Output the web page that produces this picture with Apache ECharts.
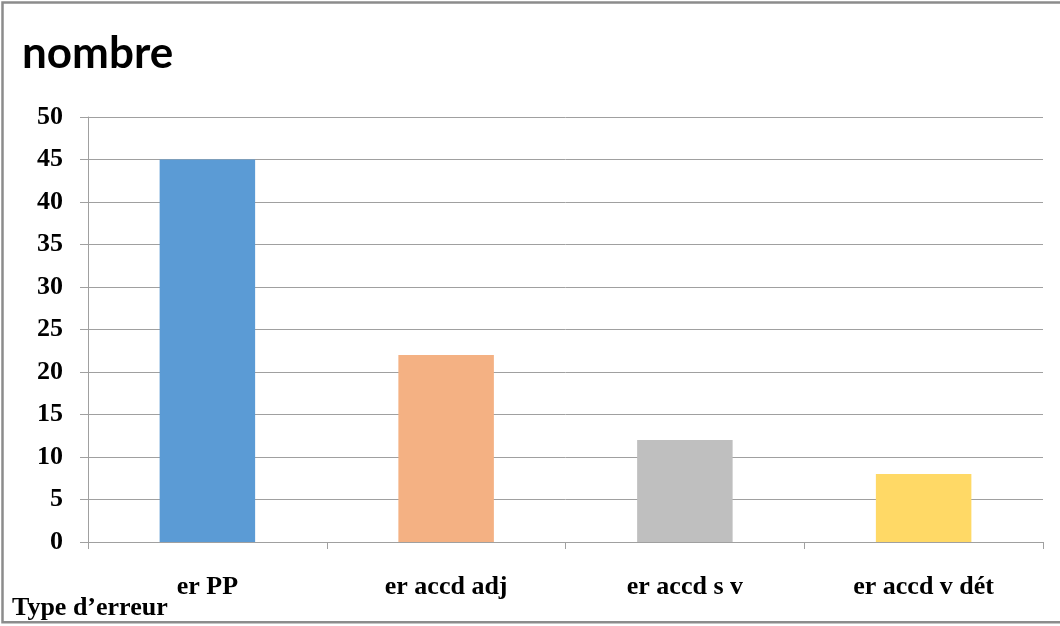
<!DOCTYPE html>
<html>
<head>
<meta charset="utf-8">
<style>
  html, body { margin: 0; padding: 0; background: #ffffff; }
  #chart { width: 1060px; height: 626px; }
</style>
<script src="https://cdn.jsdelivr.net/npm/echarts@6/dist/echarts.min.js"></script>
</head>
<body>
<div id="chart"></div>
<script>
// Error types and their counts
const categories = ['er PP', 'er accd adj', 'er accd s v', 'er accd v dét'];
const counts = [45, 22, 12, 8];
const barColors = ['#5B9BD5', '#F4B183', '#BFBFBF', '#FFD966'];
const yTicks = { min: 0, max: 50, interval: 5 };

const serif = '"Liberation Serif", "Times New Roman", serif';

const chart = echarts.init(document.getElementById('chart'), null, { renderer: 'canvas' });

chart.setOption({
  animation: false,
  backgroundColor: '#ffffff',
  title: {
    text: 'nombre',
    left: 17,
    top: 27,
    textStyle: { fontFamily: 'Lato', fontWeight: 'bold', fontSize: 44, color: '#000000' }
  },
  grid: { left: 88, right: 17, top: 117, bottom: 84, containLabel: false },
  xAxis: {
    type: 'category',
    data: categories,
    axisLine: { lineStyle: { color: '#A0A0A0', width: 1 } },
    axisTick: { show: true, alignWithLabel: false, length: 7, lineStyle: { color: '#A0A0A0' } },
    axisLabel: {
      margin: 32,
      fontFamily: serif, fontWeight: 'bold', fontSize: 26, color: '#000000'
    }
  },
  yAxis: {
    type: 'value',
    min: yTicks.min,
    max: yTicks.max,
    interval: yTicks.interval,
    axisLine: { show: true, lineStyle: { color: '#A0A0A0', width: 1 } },
    axisTick: { show: true, length: 8, lineStyle: { color: '#A0A0A0' } },
    splitLine: { lineStyle: { color: '#A0A0A0', width: 1 } },
    axisLabel: {
      margin: 25,
      fontFamily: serif, fontWeight: 'bold', fontSize: 26, color: '#000000'
    }
  },
  series: [{
    type: 'bar',
    barWidth: '40%',
    data: counts.map((v, i) => ({ value: v, itemStyle: { color: barColors[i] } }))
  }],
  graphic: [
    {
      type: 'rect',
      left: 0, top: 0,
      shape: { x: 8.5, y: 5.25, width: 1060, height: 619.75 },
      style: { fill: 'none', stroke: '#8C8C8C', lineWidth: 2.5 },
      z: 10
    },
    {
      type: 'text',
      left: 12, top: 595,
      style: { text: 'Type d\u2019erreur', font: 'bold 26px ' + serif, fill: '#000000' }
    }
  ]
});
</script>
</body>
</html>
